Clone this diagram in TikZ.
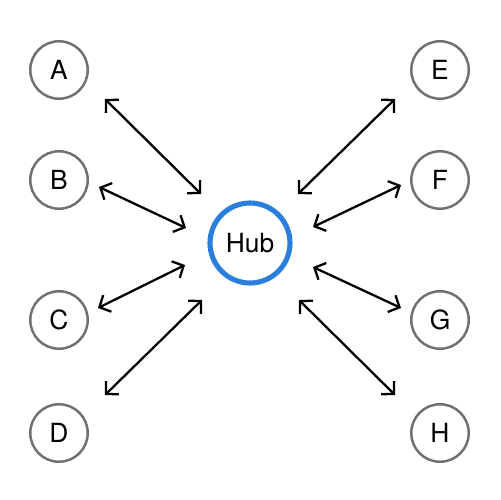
\documentclass[tikz,border=0pt]{standalone}
\usepackage{fontspec}
\setmainfont{TeX Gyre Heros}
\usetikzlibrary{arrows.meta}
\definecolor{hubblue}{RGB}{42,126,220}
\definecolor{leafgray}{RGB}{112,112,112}
\begin{document}
\begin{tikzpicture}[x=0.02cm,y=-0.02cm]
\tikzset{
  leaf/.style={circle,draw=leafgray,line width=1.4pt,minimum size=1.15cm,inner sep=0pt,
    font=\fontsize{15}{17}\selectfont},
  hubnode/.style={circle,draw=hubblue,line width=2.9pt,minimum size=1.6cm,inner sep=0pt,
    font=\fontsize{15}{17}\selectfont},
  link/.style={line width=1.3pt,{Straight Barb[length=5pt,width=10.5pt]}-{Straight Barb[length=5pt,width=10.5pt]}},
}
\useasboundingbox[fill=white] (0,0) rectangle (500,500);
\node[hubnode] (hub) at (250,243) {Hub};
\foreach \n/\x/\y in {A/59/70,B/59/180,C/59/320,D/59/433,E/440/70,F/440/180,G/440/320,H/440/433}{
    \node[leaf] (\n) at (\x,\y) {\n};
}
% arrow ends: one by the leaf, one by the hub
\foreach \n/\i/\j/\k/\l in {
    A/105/99/201/194,
    B/99/187/186/228,
    C/98/308/185/265,
    D/105/395/202/300,
    E/395/99/298/194,
    F/401/185/313/227,
    G/401/308/313/267,
    H/395/395/299/300
}{
    \coordinate (\n-out) at (\i,\j);
    \coordinate (\n-in) at (\k,\l);
    \draw[link] (\n-out) -- (\n-in);
}
\end{tikzpicture}
\end{document}
